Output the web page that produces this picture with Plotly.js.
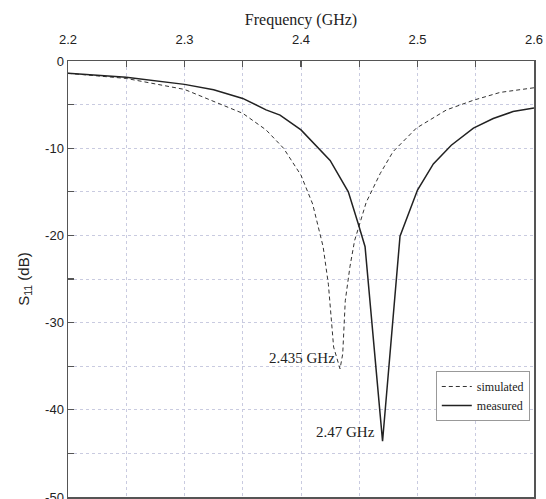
<!DOCTYPE html>
<html>
<head>
<meta charset="utf-8">
<script src="https://cdn.plot.ly/plotly-3.0.1.min.js"></script>
<style>html,body{margin:0;padding:0;background:#fff;}#chart{width:546px;height:499px;}</style>
</head>
<body>
<div id="chart"></div>
<script>
var measuredFreq = [2.2, 2.25, 2.3, 2.325, 2.35, 2.37, 2.382, 2.4, 2.425, 2.4406, 2.449, 2.455, 2.47, 2.485, 2.5, 2.5136, 2.529, 2.548, 2.565, 2.582, 2.6];
var measuredDB   = [-1.41, -1.87, -2.68, -3.3, -4.29, -5.6, -6.2, -7.9, -11.4, -15.0, -18.6, -21.3, -43.6, -20.1, -14.8, -11.8, -9.66, -7.7, -6.6, -5.8, -5.4];
var simulatedFreq = [2.2, 2.25, 2.3, 2.35, 2.37, 2.385, 2.4, 2.41, 2.419, 2.4235, 2.428, 2.4335, 2.4358, 2.438, 2.442, 2.446, 2.456, 2.468, 2.479, 2.499, 2.525, 2.548, 2.571, 2.6];
var simulatedDB   = [-1.41, -2.0, -3.26, -6.0, -7.9, -10.0, -13.1, -16.4, -21.3, -25.6, -32.8, -35.3, -33.6, -27.5, -23.6, -20.6, -16.2, -12.9, -10.4, -7.7, -5.6, -4.5, -3.6, -3.07];
var xTickVals = [2.2, 2.3, 2.4, 2.5, 2.6];
var xTickText = ["2.2", "2.3", "2.4", "2.5", "2.6"];
var yTickVals = [0, -10, -20, -30, -40, -50];
var yTickText = ["0", "-10", "-20", "-30", "-40", "-50"];
var peakLabels = ["2.435 GHz", "2.47 GHz"];
var peakX = [2.4305, 2.4653];
var peakY = [-34.1, -42.6];

var serif = "Liberation Serif, Times New Roman, serif";
var sans = "Liberation Sans, Arial, sans-serif";

var traces = [
  {x: simulatedFreq, y: simulatedDB, mode: "lines", name: "simulated",
   line: {color: "#333", width: 1, dash: "4px,3px"}},
  {x: measuredFreq, y: measuredDB, mode: "lines", name: "measured",
   line: {color: "#222", width: 1.5}}
];

var gridCol = "#c9cbe0";
var layout = {
  width: 546, height: 499,
  margin: {l: 68, r: 12, t: 61, b: 2},
  paper_bgcolor: "#fff", plot_bgcolor: "#fff",
  showlegend: true,
  legend: {x: 0.991, y: 0.289, xanchor: "right", yanchor: "top",
    bgcolor: "#fff", bordercolor: "#999", borderwidth: 1,
    font: {family: serif, size: 12, color: "#222"}, tracegroupgap: 0},
  xaxis: {
    side: "top", range: [2.2, 2.6], tickvals: xTickVals, ticktext: xTickText,
    ticks: "inside", ticklen: 6, tickcolor: "#555", tickwidth: 1.2,
    ticklabelstandoff: 10,
    showline: true, linecolor: "#555", linewidth: 1.5, mirror: true,
    showgrid: true, gridcolor: gridCol, griddash: "dot", gridwidth: 1,
    zeroline: false,
    minor: {dtick: 0.05, tick0: 2.2, ticks: "inside", ticklen: 6, tickcolor: "#555",
      showgrid: true, gridcolor: gridCol, griddash: "dot", gridwidth: 1},
    tickfont: {family: sans, size: 13, color: "#222"},
    title: {text: "Frequency (GHz)", font: {family: serif, size: 16, color: "#222"}, standoff: 2}
  },
  yaxis: {
    range: [-50, 0], tickvals: yTickVals, ticktext: yTickText,
    ticks: "inside", ticklen: 6, tickcolor: "#555", tickwidth: 1.2,
    ticklabeloverflow: "allow",
    showline: true, linecolor: "#555", linewidth: 1.5, mirror: true,
    showgrid: true, gridcolor: gridCol, griddash: "dot", gridwidth: 1,
    zeroline: false,
    minor: {dtick: 5, tick0: 0, ticks: "inside", ticklen: 6, tickcolor: "#555",
      showgrid: true, gridcolor: gridCol, griddash: "dot", gridwidth: 1},
    tickfont: {family: sans, size: 13, color: "#222"},
    title: {text: "S<sub>11</sub> (dB)", font: {family: sans, size: 15, color: "#222"}, standoff: 12}
  },
  annotations: peakLabels.map(function (t, i) {
    return {x: peakX[i], y: peakY[i], xref: "x", yref: "y", text: t, showarrow: false,
      xanchor: "right", yanchor: "middle",
      font: {family: serif, size: 15, color: "#222"}};
  })
};

Plotly.newPlot("chart", traces, layout, {displayModeBar: false, staticPlot: true});
</script>
</body>
</html>
